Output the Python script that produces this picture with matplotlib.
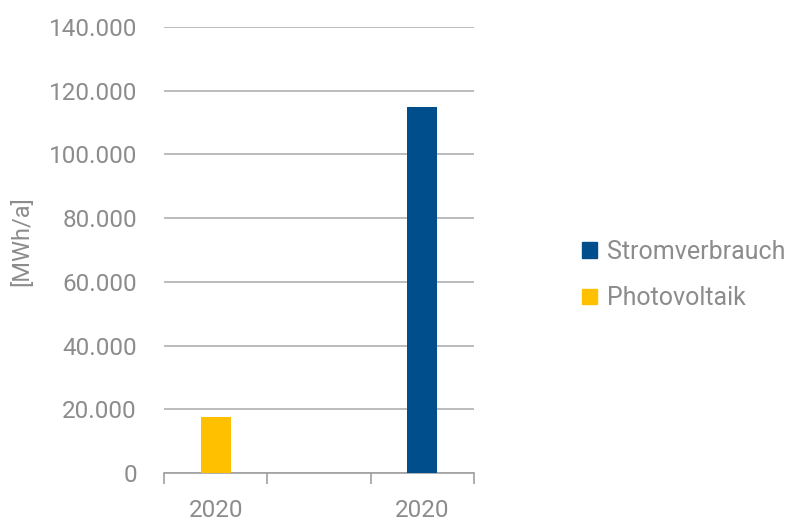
import matplotlib
matplotlib.use("Agg")
import matplotlib.pyplot as plt
from matplotlib.patches import Patch
from matplotlib.ticker import FuncFormatter, FixedLocator

categories = ["2020", "", "2020"]
photovoltaik = [17500, 0, 0]
stromverbrauch = [0, 0, 115000]
series_names = ["Stromverbrauch", "Photovoltaik"]
y_ticks = [0, 20000, 40000, 60000, 80000, 100000, 120000, 140000]

plt.rcParams['font.family'] = ['Roboto', 'DejaVu Sans']
grey = "#8C8C8C"
blue = "#004F8C"
yellow = "#FFC000"

fig = plt.figure(figsize=(7.98, 5.22), dpi=100)
ax = fig.add_axes([164/798, 49/522, 310/798, 446/522])

x = list(range(len(categories)))
ax.bar(x, photovoltaik, width=0.29, color=yellow, zorder=3)
ax.bar(x, stromverbrauch, width=0.29, color=blue, zorder=3)

ax.set_xlim(-0.5, len(categories) - 0.5)
ax.set_ylim(0, 140000)
ax.set_yticks(y_ticks)
ax.yaxis.set_major_formatter(FuncFormatter(lambda v, p: f"{int(v):,}".replace(",", ".")))
ax.grid(axis="y", color="#B0B0B0", linewidth=1.2, zorder=0)
ax.set_xticks(x)
ax.set_xticklabels(categories)
ax.xaxis.set_minor_locator(FixedLocator([i - 0.5 for i in range(len(categories) + 1)]))
ax.tick_params(axis="x", which="major", length=0, pad=18.5, labelsize=17.5, labelcolor=grey)
ax.tick_params(axis="x", which="minor", length=8, width=1.2, color="#A0A0A0", direction="out")
ax.tick_params(axis="y", length=0, pad=19.5, labelsize=17.5, labelcolor=grey)

for s in ["left", "right", "top"]:
    ax.spines[s].set_visible(False)
ax.spines["bottom"].set_color("#A0A0A0")
ax.spines["bottom"].set_linewidth(1.2)
ax.set_axisbelow(True)

fig.text(22/798, 1 - 241/522, "[MWh/a]", rotation=90, ha="center", va="center",
         fontsize=17, color=grey)

handles = [Patch(color=blue), Patch(color=yellow)]
fig.legend(handles, series_names, loc="center left", bbox_to_anchor=(582/798, 1 - 275/522),
           frameon=False, fontsize=18, labelcolor=grey, handlelength=0.6, handleheight=0.6,
           handletextpad=0.4, labelspacing=0.9, borderpad=0, borderaxespad=0)

fig.savefig("out.png", dpi=100)
